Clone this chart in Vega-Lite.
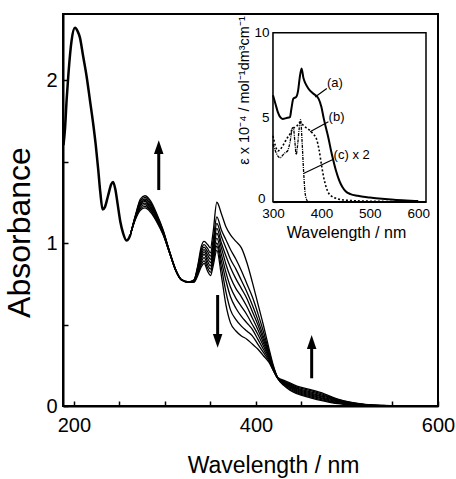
{
  "$schema": "https://vega.github.io/schema/vega-lite/v6.json",
  "width": 375,
  "height": 392,
  "autosize": {"type": "none"},
  "padding": {"left": 63, "top": 14, "right": 18, "bottom": 73},
  "background": "white",
  "config": {
    "font": "Liberation Sans",
    "view": {"stroke": "black", "strokeWidth": 2},
    "axis": {"grid": false, "labelFlush": false, "domainColor": "black", "tickColor": "black", "labelColor": "black", "titleColor": "black", "labelFont": "Liberation Sans", "titleFont": "Liberation Sans", "titleFontWeight": "normal"}
  },
  "datasets": {
    "common": [
      {"x": 188.5, "y": 1.6}, {"x": 190.2, "y": 1.7}, {"x": 192, "y": 1.88}, {"x": 194, "y": 2.04},
      {"x": 197.5, "y": 2.245}, {"x": 201.2, "y": 2.32}, {"x": 204, "y": 2.3}, {"x": 206.6, "y": 2.26},
      {"x": 210, "y": 2.15}, {"x": 214, "y": 2.02}, {"x": 217.5, "y": 1.88}, {"x": 221.2, "y": 1.73},
      {"x": 224, "y": 1.6}, {"x": 226.7, "y": 1.45}, {"x": 229, "y": 1.31}, {"x": 231.5, "y": 1.205},
      {"x": 234, "y": 1.22}, {"x": 237.5, "y": 1.29}, {"x": 241, "y": 1.36}, {"x": 243, "y": 1.375},
      {"x": 245.5, "y": 1.33}, {"x": 248, "y": 1.24}, {"x": 251, "y": 1.13}, {"x": 254, "y": 1.06},
      {"x": 257.8, "y": 1.015}, {"x": 260, "y": 1.025}, {"x": 262, "y": 1.05}
    ],
    "series": [
      {"x": 262, "a": 1.05, "b": 1.05, "c": 1.05, "d": 1.05, "e": 1.05, "f": 1.05, "g": 1.05, "h": 1.05, "i": 1.05},
      {"x": 268, "a": 1.15, "b": 1.155, "c": 1.16, "d": 1.165, "e": 1.165, "f": 1.17, "g": 1.17, "h": 1.175, "i": 1.18},
      {"x": 273, "a": 1.2, "b": 1.21, "c": 1.22, "d": 1.23, "e": 1.235, "f": 1.245, "g": 1.25, "h": 1.26, "i": 1.27},
      {"x": 278, "a": 1.215, "b": 1.225, "c": 1.235, "d": 1.245, "e": 1.255, "f": 1.262, "g": 1.27, "h": 1.28, "i": 1.29},
      {"x": 284, "a": 1.19, "b": 1.2, "c": 1.205, "d": 1.215, "e": 1.22, "f": 1.23, "g": 1.24, "h": 1.25, "i": 1.26},
      {"x": 291, "a": 1.13, "b": 1.135, "c": 1.14, "d": 1.15, "e": 1.155, "f": 1.16, "g": 1.165, "h": 1.17, "i": 1.18},
      {"x": 298, "a": 1.05, "b": 1.055, "c": 1.06, "d": 1.06, "e": 1.065, "f": 1.07, "g": 1.07, "h": 1.075, "i": 1.08},
      {"x": 305, "a": 0.94, "b": 0.94, "c": 0.942, "d": 0.944, "e": 0.945, "f": 0.946, "g": 0.947, "h": 0.948, "i": 0.95},
      {"x": 312, "a": 0.828, "b": 0.829, "c": 0.83, "d": 0.83, "e": 0.831, "f": 0.832, "g": 0.833, "h": 0.834, "i": 0.835},
      {"x": 318, "a": 0.775, "b": 0.775, "c": 0.775, "d": 0.775, "e": 0.775, "f": 0.775, "g": 0.775, "h": 0.775, "i": 0.775},
      {"x": 326, "a": 0.762, "b": 0.762, "c": 0.761, "d": 0.761, "e": 0.76, "f": 0.76, "g": 0.759, "h": 0.759, "i": 0.758},
      {"x": 332, "a": 0.775, "b": 0.773, "c": 0.771, "d": 0.769, "e": 0.767, "f": 0.765, "g": 0.763, "h": 0.761, "i": 0.76},
      {"x": 336, "a": 0.86, "b": 0.85, "c": 0.845, "d": 0.84, "e": 0.835, "f": 0.83, "g": 0.82, "h": 0.81, "i": 0.8},
      {"x": 340, "a": 0.98, "b": 0.96, "c": 0.945, "d": 0.93, "e": 0.915, "f": 0.9, "g": 0.885, "h": 0.87, "i": 0.855},
      {"x": 343, "a": 1.01, "b": 0.99, "c": 0.975, "d": 0.96, "e": 0.945, "f": 0.93, "g": 0.91, "h": 0.89, "i": 0.875},
      {"x": 347, "a": 0.99, "b": 0.965, "c": 0.945, "d": 0.925, "e": 0.905, "f": 0.885, "g": 0.865, "h": 0.845, "i": 0.825},
      {"x": 350, "a": 0.97, "b": 0.94, "c": 0.92, "d": 0.9, "e": 0.88, "f": 0.86, "g": 0.84, "h": 0.82, "i": 0.8},
      {"x": 353, "a": 1.07, "b": 1.02, "c": 0.99, "d": 0.97, "e": 0.95, "f": 0.93, "g": 0.91, "h": 0.885, "i": 0.86},
      {"x": 357, "a": 1.25, "b": 1.16, "c": 1.12, "d": 1.09, "e": 1.06, "f": 1.03, "g": 1.0, "h": 0.98, "i": 0.955},
      {"x": 362, "a": 1.18, "b": 1.08, "c": 1.04, "d": 1.0, "e": 0.97, "f": 0.93, "g": 0.89, "h": 0.85, "i": 0.8},
      {"x": 367, "a": 1.1, "b": 1.02, "c": 0.97, "d": 0.92, "e": 0.87, "f": 0.82, "g": 0.77, "h": 0.7, "i": 0.62},
      {"x": 372, "a": 1.05, "b": 0.96, "c": 0.9, "d": 0.85, "e": 0.79, "f": 0.73, "g": 0.67, "h": 0.59, "i": 0.51},
      {"x": 378, "a": 1.01, "b": 0.9, "c": 0.84, "d": 0.78, "e": 0.72, "f": 0.66, "g": 0.6, "h": 0.53, "i": 0.46},
      {"x": 384, "a": 0.97, "b": 0.83, "c": 0.77, "d": 0.72, "e": 0.67, "f": 0.61, "g": 0.55, "h": 0.49, "i": 0.43},
      {"x": 390, "a": 0.88, "b": 0.75, "c": 0.7, "d": 0.66, "e": 0.61, "f": 0.56, "g": 0.51, "h": 0.46, "i": 0.41},
      {"x": 396, "a": 0.76, "b": 0.67, "c": 0.62, "d": 0.58, "e": 0.54, "f": 0.5, "g": 0.47, "h": 0.43, "i": 0.38},
      {"x": 402, "a": 0.63, "b": 0.57, "c": 0.53, "d": 0.5, "e": 0.47, "f": 0.44, "g": 0.41, "h": 0.38, "i": 0.35},
      {"x": 408, "a": 0.5, "b": 0.46, "c": 0.43, "d": 0.41, "e": 0.39, "f": 0.37, "g": 0.35, "h": 0.33, "i": 0.31},
      {"x": 414, "a": 0.36, "b": 0.34, "c": 0.33, "d": 0.32, "e": 0.31, "f": 0.3, "g": 0.29, "h": 0.28, "i": 0.27},
      {"x": 419, "a": 0.25, "b": 0.24, "c": 0.24, "d": 0.23, "e": 0.23, "f": 0.23, "g": 0.22, "h": 0.22, "i": 0.22},
      {"x": 424, "a": 0.17, "b": 0.17, "c": 0.17, "d": 0.17, "e": 0.17, "f": 0.17, "g": 0.17, "h": 0.17, "i": 0.175},
      {"x": 432, "a": 0.12, "b": 0.125, "c": 0.13, "d": 0.134, "e": 0.138, "f": 0.142, "g": 0.146, "h": 0.15, "i": 0.155},
      {"x": 445, "a": 0.075, "b": 0.081, "c": 0.087, "d": 0.093, "e": 0.099, "f": 0.105, "g": 0.11, "h": 0.116, "i": 0.122},
      {"x": 460, "a": 0.05, "b": 0.056, "c": 0.062, "d": 0.068, "e": 0.074, "f": 0.08, "g": 0.087, "h": 0.094, "i": 0.1},
      {"x": 475, "a": 0.03, "b": 0.035, "c": 0.04, "d": 0.045, "e": 0.051, "f": 0.057, "g": 0.063, "h": 0.069, "i": 0.075},
      {"x": 490, "a": 0.014, "b": 0.017, "c": 0.021, "d": 0.025, "e": 0.029, "f": 0.033, "g": 0.036, "h": 0.039, "i": 0.042},
      {"x": 505, "a": 0.006, "b": 0.008, "c": 0.01, "d": 0.012, "e": 0.014, "f": 0.016, "g": 0.018, "h": 0.02, "i": 0.022},
      {"x": 520, "a": 0.002, "b": 0.003, "c": 0.004, "d": 0.005, "e": 0.006, "f": 0.007, "g": 0.008, "h": 0.009, "i": 0.01},
      {"x": 540, "a": 0, "b": 0.001, "c": 0.001, "d": 0.001, "e": 0.002, "f": 0.002, "g": 0.002, "h": 0.003, "i": 0.003},
      {"x": 560, "a": 0, "b": 0, "c": 0, "d": 0, "e": 0, "f": 0, "g": 0, "h": 0, "i": 0}
    ],
    "arrows": [
      {"x": 293.2, "tail": 1.325, "end": 1.585, "head": 1.578, "dir": "up"},
      {"x": 357.9, "tail": 0.681, "end": 0.405, "head": 0.41, "dir": "down"},
      {"x": 461.2, "tail": 0.17, "end": 0.388, "head": 0.382, "dir": "up"}
    ],
    "inset": [
      {"s": "a", "x": 300, "y": 6.3}, {"s": "a", "x": 305, "y": 5.8}, {"s": "a", "x": 310, "y": 5.3},
      {"s": "a", "x": 315, "y": 5.0}, {"s": "a", "x": 320, "y": 4.9}, {"s": "a", "x": 328, "y": 4.95},
      {"s": "a", "x": 335, "y": 5.0}, {"s": "a", "x": 338, "y": 5.5}, {"s": "a", "x": 342, "y": 6.1},
      {"s": "a", "x": 348, "y": 6.2}, {"s": "a", "x": 352, "y": 6.6}, {"s": "a", "x": 355, "y": 7.3},
      {"s": "a", "x": 359, "y": 7.88}, {"s": "a", "x": 363, "y": 7.3}, {"s": "a", "x": 367, "y": 7.0},
      {"s": "a", "x": 373, "y": 6.7}, {"s": "a", "x": 383, "y": 6.4}, {"s": "a", "x": 394, "y": 6.1},
      {"s": "a", "x": 400, "y": 5.6}, {"s": "a", "x": 405, "y": 4.9}, {"s": "a", "x": 410, "y": 4.3},
      {"s": "a", "x": 415, "y": 3.7}, {"s": "a", "x": 420, "y": 3.0}, {"s": "a", "x": 425, "y": 2.4},
      {"s": "a", "x": 430, "y": 1.85}, {"s": "a", "x": 435, "y": 1.4}, {"s": "a", "x": 440, "y": 1.05},
      {"s": "a", "x": 445, "y": 0.8}, {"s": "a", "x": 450, "y": 0.62}, {"s": "a", "x": 460, "y": 0.45},
      {"s": "a", "x": 475, "y": 0.35}, {"s": "a", "x": 500, "y": 0.25}, {"s": "a", "x": 525, "y": 0.17},
      {"s": "a", "x": 550, "y": 0.11}, {"s": "a", "x": 575, "y": 0.07}, {"s": "a", "x": 600, "y": 0.04},
      {"s": "b", "x": 300, "y": 3.9}, {"s": "b", "x": 305, "y": 3.3}, {"s": "b", "x": 310, "y": 3.0},
      {"s": "b", "x": 315, "y": 3.1}, {"s": "b", "x": 320, "y": 3.3}, {"s": "b", "x": 325, "y": 3.55},
      {"s": "b", "x": 330, "y": 3.8}, {"s": "b", "x": 335, "y": 4.0}, {"s": "b", "x": 340, "y": 4.3},
      {"s": "b", "x": 345, "y": 4.4}, {"s": "b", "x": 350, "y": 4.5}, {"s": "b", "x": 355, "y": 4.7},
      {"s": "b", "x": 360, "y": 4.6}, {"s": "b", "x": 365, "y": 4.45}, {"s": "b", "x": 370, "y": 4.35},
      {"s": "b", "x": 375, "y": 4.25}, {"s": "b", "x": 380, "y": 4.1}, {"s": "b", "x": 385, "y": 3.95},
      {"s": "b", "x": 390, "y": 3.7}, {"s": "b", "x": 395, "y": 3.1}, {"s": "b", "x": 400, "y": 2.2},
      {"s": "b", "x": 405, "y": 1.4}, {"s": "b", "x": 410, "y": 0.85}, {"s": "b", "x": 415, "y": 0.5},
      {"s": "b", "x": 420, "y": 0.35}, {"s": "b", "x": 430, "y": 0.2}, {"s": "b", "x": 440, "y": 0.13},
      {"s": "b", "x": 460, "y": 0.07}, {"s": "b", "x": 500, "y": 0.03}, {"s": "b", "x": 550, "y": 0.01},
      {"s": "b", "x": 600, "y": 0},
      {"s": "c", "x": 300, "y": 3.4}, {"s": "c", "x": 305, "y": 3.0}, {"s": "c", "x": 310, "y": 2.7},
      {"s": "c", "x": 315, "y": 2.6}, {"s": "c", "x": 320, "y": 2.75}, {"s": "c", "x": 325, "y": 2.9},
      {"s": "c", "x": 330, "y": 3.0}, {"s": "c", "x": 335, "y": 3.5}, {"s": "c", "x": 340, "y": 4.35},
      {"s": "c", "x": 342, "y": 4.4}, {"s": "c", "x": 345, "y": 3.6}, {"s": "c", "x": 348, "y": 2.8},
      {"s": "c", "x": 351, "y": 3.4}, {"s": "c", "x": 354, "y": 4.3}, {"s": "c", "x": 357, "y": 4.85},
      {"s": "c", "x": 360, "y": 3.6}, {"s": "c", "x": 363, "y": 1.9}, {"s": "c", "x": 366, "y": 0.6},
      {"s": "c", "x": 369, "y": 0.15}, {"s": "c", "x": 372, "y": 0.02}, {"s": "c", "x": 380, "y": 0}
    ],
    "leaders": [
      {"x1": 386.9, "y1": 6.2, "x2": 411.1, "y2": 6.7},
      {"x1": 376.6, "y1": 4.14, "x2": 414.4, "y2": 4.73},
      {"x1": 364.1, "y1": 1.68, "x2": 424.8, "y2": 2.51}
    ],
    "labels": [
      {"t": "(a)", "x": 411.5, "y": 7.0},
      {"t": "(b)", "x": 414.8, "y": 5.03},
      {"t": "(c) x 2", "x": 425.2, "y": 2.76}
    ]
  },
  "layer": [
    {
      "layer": [
        {
          "data": {"name": "common"},
          "mark": {"type": "line", "color": "black", "strokeWidth": 2.5, "interpolate": "monotone"},
          "encoding": {
            "x": {"field": "x", "type": "quantitative",
              "scale": {"domain": [188, 600], "nice": false, "zero": false},
              "axis": {"title": "Wavelength / nm", "values": [200, 250, 300, 350, 400, 450, 500, 550, 600],
                "labelExpr": "datum.value % 200 === 0 ? datum.label : ''",
                "tickSize": -5, "tickWidth": 1.5, "domainWidth": 2, "labelFontSize": 20, "labelPadding": 14,
                "titleFontSize": 23, "titleX": 210, "titleY": 66, "titleBaseline": "alphabetic"}},
            "y": {"field": "y", "type": "quantitative",
              "scale": {"domain": [0, 2.405], "nice": false},
              "axis": {"title": "Absorbance", "values": [0, 0.5, 1, 1.5, 2], "format": ".0f",
                "labelExpr": "datum.value % 1 === 0 ? datum.label : ''",
                "tickSize": -5, "tickWidth": 1.5, "domainWidth": 2, "labelFontSize": 20, "labelPadding": 11,
                "titleFontSize": 32, "titleX": -34, "titleY": 218, "titleBaseline": "alphabetic", "titleAngle": 270}}
          }
        },
        {
          "data": {"name": "series"},
          "transform": [{"fold": ["a", "b", "c", "d", "e", "f", "g", "h", "i"], "as": ["k", "y"]}],
          "mark": {"type": "line", "color": "black", "strokeWidth": 1.3, "interpolate": "monotone"},
          "encoding": {
            "x": {"field": "x", "type": "quantitative"},
            "y": {"field": "y", "type": "quantitative"},
            "detail": {"field": "k"}
          }
        },
        {
          "data": {"name": "arrows"},
          "mark": {"type": "rule", "color": "black", "strokeWidth": 3},
          "encoding": {
            "x": {"field": "x", "type": "quantitative"},
            "y": {"field": "tail", "type": "quantitative"},
            "y2": {"field": "end"}
          }
        },
        {
          "data": {"name": "arrows"},
          "mark": {"type": "point", "filled": true, "color": "black", "opacity": 1, "size": 300},
          "encoding": {
            "x": {"field": "x", "type": "quantitative"},
            "y": {"field": "head", "type": "quantitative"},
            "shape": {"field": "dir", "type": "nominal", "legend": null,
              "scale": {"domain": ["up", "down"], "range": ["M0,-1L0.55,0.6L-0.55,0.6Z", "M0,1L0.55,-0.6L-0.55,-0.6Z"]}}
          }
        }
      ]
    },
    {
      "layer": [
        {
          "data": {"values": [{"x1": 300, "x2": 616, "y1": 0, "y2": 10}]},
          "mark": {"type": "rect", "fill": "white", "stroke": "black", "strokeWidth": 1.5},
          "encoding": {
            "x": {"field": "x1", "type": "quantitative",
              "scale": {"domain": [300, 616], "range": [210, 363], "nice": false, "zero": false},
              "axis": {"orient": "bottom", "offset": -204.3, "title": "Wavelength / nm", "values": [300, 400, 500, 600],
                "format": "d", "tickSize": -4, "tickWidth": 1.2, "domainWidth": 1.5, "labelFontSize": 13.5, "labelPadding": 9,
                "titleFontSize": 16, "titleX": 283, "titleY": 36, "titleBaseline": "alphabetic"}},
            "x2": {"field": "x2"},
            "y": {"field": "y1", "type": "quantitative",
              "scale": {"domain": [0, 10], "range": [187.7, 18.7], "nice": false},
              "axis": {"orient": "left", "offset": -210, "title": "ε x 10⁻⁴ / mol⁻¹dm³cm⁻¹", "values": [0, 5, 10],
                "format": "d", "tickSize": -4, "tickWidth": 1.2, "domainWidth": 1.5, "labelFontSize": 13.5,
                "labelPadding": {"condition": {"test": "datum.value === 0", "value": 12}, "value": 8},
                "labelOffset": {"condition": {"test": "datum.value === 0", "value": -3}, "value": 0},
                "labelBaseline": "middle",
                "titleFontSize": 14.5, "titleX": -25, "titleY": 76, "titleBaseline": "alphabetic", "titleAngle": 270}},
            "y2": {"field": "y2"}
          }
        },
        {
          "data": {"name": "inset"},
          "transform": [{"filter": "datum.s === 'a'"}],
          "mark": {"type": "line", "color": "black", "strokeWidth": 2, "interpolate": "monotone"},
          "encoding": {
            "x": {"field": "x", "type": "quantitative"},
            "y": {"field": "y", "type": "quantitative"}
          }
        },
        {
          "data": {"name": "inset"},
          "transform": [{"filter": "datum.s === 'b'"}],
          "mark": {"type": "line", "color": "black", "strokeWidth": 1.6, "strokeDash": [2, 2], "interpolate": "monotone"},
          "encoding": {
            "x": {"field": "x", "type": "quantitative"},
            "y": {"field": "y", "type": "quantitative"}
          }
        },
        {
          "data": {"name": "inset"},
          "transform": [{"filter": "datum.s === 'c'"}],
          "mark": {"type": "line", "color": "black", "strokeWidth": 1.3, "strokeDash": [3, 1, 1, 1], "interpolate": "monotone"},
          "encoding": {
            "x": {"field": "x", "type": "quantitative"},
            "y": {"field": "y", "type": "quantitative"}
          }
        },
        {
          "data": {"name": "leaders"},
          "mark": {"type": "rule", "color": "black", "strokeWidth": 1.2},
          "encoding": {
            "x": {"field": "x1", "type": "quantitative"},
            "x2": {"field": "x2"},
            "y": {"field": "y1", "type": "quantitative"},
            "y2": {"field": "y2"}
          }
        },
        {
          "data": {"name": "labels"},
          "mark": {"type": "text", "align": "left", "baseline": "middle", "fontSize": 13, "color": "black", "font": "Liberation Sans"},
          "encoding": {
            "x": {"field": "x", "type": "quantitative"},
            "y": {"field": "y", "type": "quantitative"},
            "text": {"field": "t"}
          }
        }
      ]
    }
  ],
  "resolve": {
    "scale": {"x": "independent", "y": "independent"},
    "axis": {"x": "independent", "y": "independent"}
  }
}
